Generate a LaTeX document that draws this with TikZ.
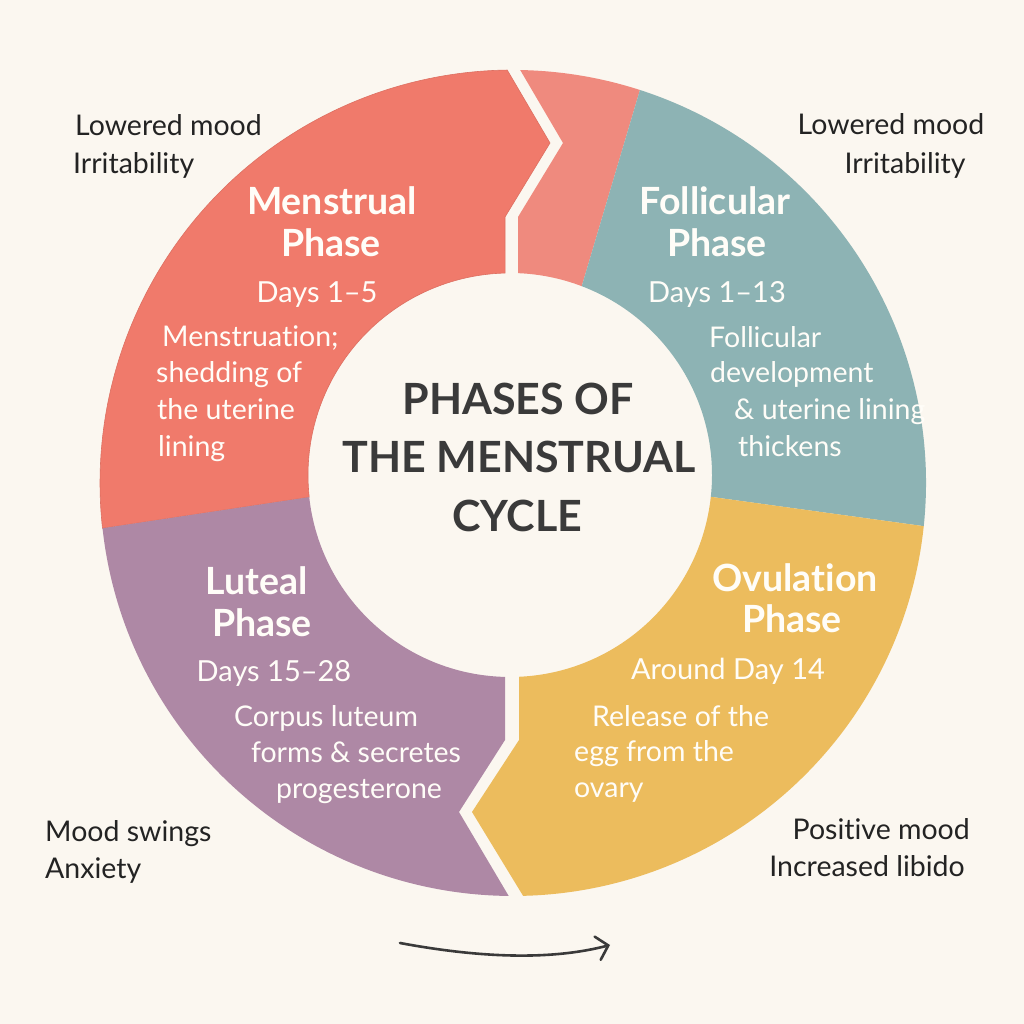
\documentclass[tikz,border=0pt]{standalone}
\usepackage{fontspec}
\setmainfont{Lato}[Ligatures=NoCommon]
\usetikzlibrary{calc,arrows.meta}
\definecolor{bgc}{HTML}{FBF7F0}
\definecolor{redc}{HTML}{F07A6B}
\definecolor{pinkc}{HTML}{EF8A7E}
\definecolor{tealc}{HTML}{8DB3B4}
\definecolor{yelc}{HTML}{ECBC5D}
\definecolor{purc}{HTML}{AE88A5}
\definecolor{txtc}{HTML}{232323}
\definecolor{ttlc}{HTML}{3A3A3A}
\definecolor{whc}{HTML}{FFFDF8}
\tikzset{
  phasetitle/.style={font=\fontsize{37.5}{42}\selectfont\bfseries, text=whc, inner sep=0, anchor=base},
  dayslbl/.style={font=\fontsize{29}{34}\selectfont, text=whc, inner sep=0, anchor=base},
  desc/.style={font=\fontsize{28.5}{33}\selectfont, text=whc, inner sep=0, anchor=base west},
  descc/.style={font=\fontsize{28.5}{33}\selectfont, text=whc, inner sep=0, anchor=base},
  side/.style={font=\fontsize{28.5}{33}\selectfont, text=txtc, inner sep=0},
  titletxt/.style={font=\fontsize{43}{48}\selectfont\bfseries, text=ttlc, inner sep=0, anchor=base},
}
\begin{document}
\begin{tikzpicture}[x=1pt,y=1pt]
\useasboundingbox (0,0) rectangle (1024,1024);
\fill[bgc] (0,0) rectangle (1024,1024);
\coordinate (Co) at (513,541);
\coordinate (Ci) at (510,549);
% Menstrual (red)
\filldraw[fill=redc, draw=redc!92!black, line width=0.6pt]
  ($(Co)+(90.8:413)$) arc[start angle=90.8, end angle=186.3, radius=413]
  -- ($(Ci)+(186.3:202)$) arc[start angle=186.3, end angle=91.4, radius=202]
  -- (505,807) -- (550,881) -- cycle;
% pink
\fill[pinkc]
  ($(Co)+(89.0:413)$) arc[start angle=89.0, end angle=72.1, radius=413]
  -- ($(Ci)+(69.2:202)$) arc[start angle=69.2, end angle=87.7, radius=202]
  -- (518,807) -- (563,881) -- cycle;
% Follicular (teal)
\fill[tealc]
  ($(Co)+(72.1:413)$) arc[start angle=72.1, end angle=-6.0, radius=413]
  -- ($(Ci)+(-6.2:202)$) arc[start angle=-6.2, end angle=69.2, radius=202]
  -- cycle;
% Ovulation (yellow)
\fill[yelc]
  ($(Co)+(-6.0:413)$) arc[start angle=-6.0, end angle=-88.6, radius=413]
  -- (472,212) -- (519,284) -- ($(Ci)+(-87.4:202)$)
  arc[start angle=-87.4, end angle=-6.2, radius=202] -- cycle;
% Luteal (purple)
\fill[purc]
  ($(Co)+(269.4:413)$) arc[start angle=269.4, end angle=186.3, radius=413]
  -- ($(Ci)+(186.3:202)$) arc[start angle=186.3, end angle=268.6, radius=202]
  -- (505,284) -- (459,212) -- cycle;
% Title
\node[titletxt] (t1) at (518,609) {PHASES OF};
\node[titletxt] (t2) at (519,551) {THE MENSTRUAL};
\node[titletxt] (t3) at (517,492) {CYCLE};
% Menstrual texts
\node[phasetitle] (m1) at (332,809) {Menstrual};
\node[phasetitle] (m2) at (331,767) {Phase};
\node[dayslbl] (m3) at (317,721) {Days 1–5};
\node[desc] (m4) at (162,677) {Menstruation;};
\node[desc] (m5) at (156,641) {shedding of};
\node[desc] (m6) at (157,604) {the uterine};
\node[desc] (m7) at (158,567) {lining};
% Follicular texts
\node[phasetitle] (f1) at (715,809) {Follicular};
\node[phasetitle] (f2) at (717,767) {Phase};
\node[dayslbl] (f3) at (717,721) {Days 1–13};
\node[desc] (f4) at (709,676) {Follicular};
\node[desc] (f5) at (710,641) {development};
\node[desc] (f6) at (734,604) {\& uterine lining};
\node[desc] (f7) at (738,567) {thickens};
% Luteal texts
\node[phasetitle] (l1) at (257,429) {Luteal};
\node[phasetitle] (l2) at (262,387) {Phase};
\node[dayslbl] (l3) at (274,342) {Days 15–28};
\node[descc] (l4) at (326,297) {Corpus luteum};
\node[descc] (l5) at (356,261) {forms \& secretes};
\node[descc] (l6) at (359,225) {progesterone};
% Ovulation texts
\node[phasetitle] (o1) at (795,432) {Ovulation};
\node[phasetitle] (o2) at (792,391) {Phase};
\node[dayslbl] (o3) at (728,344) {Around Day 14};
\node[desc] (o4) at (592,297) {Release of the};
\node[desc] (o5) at (574,262) {egg from the};
\node[desc] (o6) at (574,226) {ovary};
% side labels
\node[side, anchor=base west] (s1) at (75,888) {Lowered mood};
\node[side, anchor=base west] (s2) at (73,850) {Irritability};
\node[side, anchor=base] (s3) at (891,889) {Lowered mood};
\node[side, anchor=base] (s4) at (905,850) {Irritability};
\node[side, anchor=base west] (s5) at (45,182) {Mood swings};
\node[side, anchor=base west] (s6) at (45,145) {Anxiety};
\node[side, anchor=base east] (s7) at (970,184) {Positive mood};
\node[side, anchor=base east] (s8) at (965,147) {Increased libido};
% arrow
\coordinate (a1) at (400,81);
\coordinate (a2) at (610,79);
\draw[line width=2.6pt, draw=ttlc, line cap=round,
  -{Straight Barb[length=11pt,width=24pt,line cap=round]}]
  (a1) .. controls (470,68) and (545,62) .. (a2);
\end{tikzpicture}
\end{document}
